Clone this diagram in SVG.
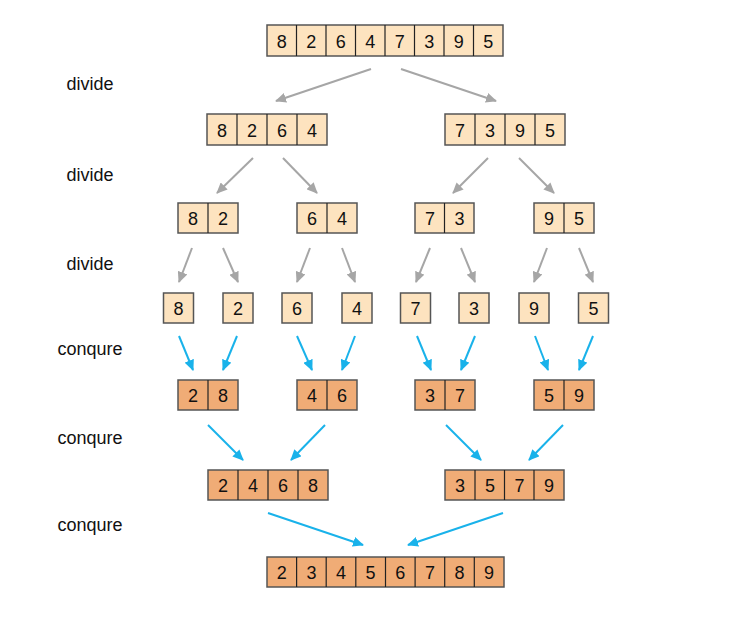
<svg xmlns="http://www.w3.org/2000/svg" width="755" height="628" viewBox="0 0 755 628">
<style>
.lbl{font-family:"Liberation Sans",Arial,sans-serif;font-size:18px;fill:#111;text-anchor:middle}
.num{font-family:"Liberation Sans",Arial,sans-serif;font-size:18px;fill:#111;text-anchor:middle}
.lt rect.b{fill:#fde3bf;stroke:#555;stroke-width:1.5}
.dk rect.b{fill:#f0ac76;stroke:#555;stroke-width:1.5}
.dv{stroke:#222;stroke-width:1.2}
.ga{stroke:#a6a6a6;stroke-width:2;fill:none;marker-end:url(#ag)}
.ca{stroke:#19b2ea;stroke-width:2;fill:none;marker-end:url(#ac)}
</style>
<defs>
<marker id="ag" markerUnits="userSpaceOnUse" markerWidth="12" markerHeight="10" refX="10" refY="5" orient="auto"><path d="M0,0 L11,5 L0,10 Z" fill="#a6a6a6"/></marker>
<marker id="ac" markerUnits="userSpaceOnUse" markerWidth="12" markerHeight="10" refX="10" refY="5" orient="auto"><path d="M0,0 L11,5 L0,10 Z" fill="#19b2ea"/></marker>
</defs>
<rect width="755" height="628" fill="#fff"/>
<g id="labels">
<text class="lbl" x="90" y="90">divide</text>
<text class="lbl" x="90" y="181">divide</text>
<text class="lbl" x="90" y="270">divide</text>
<text class="lbl" x="90" y="355">conqure</text>
<text class="lbl" x="90" y="444">conqure</text>
<text class="lbl" x="90" y="531">conqure</text>
</g>
<g id="n1" class="lt">
<rect class="b" x="267" y="25" width="236" height="31"/>
<line class="dv" x1="296.5" y1="25" x2="296.5" y2="56"/><line class="dv" x1="326" y1="25" x2="326" y2="56"/><line class="dv" x1="355.5" y1="25" x2="355.5" y2="56"/><line class="dv" x1="385" y1="25" x2="385" y2="56"/><line class="dv" x1="414.5" y1="25" x2="414.5" y2="56"/><line class="dv" x1="444" y1="25" x2="444" y2="56"/><line class="dv" x1="473.5" y1="25" x2="473.5" y2="56"/>
<text class="num" x="281.8" y="48">8</text><text class="num" x="311.3" y="48">2</text><text class="num" x="340.8" y="48">6</text><text class="num" x="370.3" y="48">4</text><text class="num" x="399.8" y="48">7</text><text class="num" x="429.3" y="48">3</text><text class="num" x="458.8" y="48">9</text><text class="num" x="488.3" y="48">5</text>
</g>
<g id="n2a" class="lt">
<rect class="b" x="207" y="114" width="120" height="31"/>
<line class="dv" x1="237" y1="114" x2="237" y2="145"/><line class="dv" x1="267" y1="114" x2="267" y2="145"/><line class="dv" x1="297" y1="114" x2="297" y2="145"/>
<text class="num" x="222" y="137">8</text><text class="num" x="252" y="137">2</text><text class="num" x="282" y="137">6</text><text class="num" x="312" y="137">4</text>
</g>
<g id="n2b" class="lt">
<rect class="b" x="445" y="114" width="120" height="31"/>
<line class="dv" x1="475" y1="114" x2="475" y2="145"/><line class="dv" x1="505" y1="114" x2="505" y2="145"/><line class="dv" x1="535" y1="114" x2="535" y2="145"/>
<text class="num" x="460" y="137">7</text><text class="num" x="490" y="137">3</text><text class="num" x="520" y="137">9</text><text class="num" x="550" y="137">5</text>
</g>
<g id="n3a" class="lt"><rect class="b" x="178" y="203" width="60" height="30"/><line class="dv" x1="208" y1="203" x2="208" y2="233"/><text class="num" x="193" y="225">8</text><text class="num" x="223" y="225">2</text></g>
<g id="n3b" class="lt"><rect class="b" x="297" y="203" width="60" height="30"/><line class="dv" x1="327" y1="203" x2="327" y2="233"/><text class="num" x="312" y="225">6</text><text class="num" x="342" y="225">4</text></g>
<g id="n3c" class="lt"><rect class="b" x="415" y="203" width="59" height="30"/><line class="dv" x1="444.5" y1="203" x2="444.5" y2="233"/><text class="num" x="430" y="225">7</text><text class="num" x="459.5" y="225">3</text></g>
<g id="n3d" class="lt"><rect class="b" x="534" y="203" width="60" height="30"/><line class="dv" x1="564" y1="203" x2="564" y2="233"/><text class="num" x="549" y="225">9</text><text class="num" x="579" y="225">5</text></g>
<g id="n4a" class="lt"><rect class="b" x="163.5" y="293" width="30" height="30"/><text class="num" x="178.5" y="315">8</text></g>
<g id="n4b" class="lt"><rect class="b" x="223" y="293" width="30" height="30"/><text class="num" x="238" y="315">2</text></g>
<g id="n4c" class="lt"><rect class="b" x="282" y="293" width="30" height="30"/><text class="num" x="297" y="315">6</text></g>
<g id="n4d" class="lt"><rect class="b" x="342" y="293" width="30" height="30"/><text class="num" x="357" y="315">4</text></g>
<g id="n4e" class="lt"><rect class="b" x="400.5" y="293" width="30" height="30"/><text class="num" x="415.5" y="315">7</text></g>
<g id="n4f" class="lt"><rect class="b" x="459" y="293" width="30" height="30"/><text class="num" x="474" y="315">3</text></g>
<g id="n4g" class="lt"><rect class="b" x="519" y="293" width="30" height="30"/><text class="num" x="534" y="315">9</text></g>
<g id="n4h" class="lt"><rect class="b" x="578.5" y="293" width="30" height="30"/><text class="num" x="593.5" y="315">5</text></g>
<g id="n5a" class="dk"><rect class="b" x="178" y="380" width="60" height="30"/><line class="dv" x1="208" y1="380" x2="208" y2="410"/><text class="num" x="193" y="402">2</text><text class="num" x="223" y="402">8</text></g>
<g id="n5b" class="dk"><rect class="b" x="297" y="380" width="60" height="30"/><line class="dv" x1="327" y1="380" x2="327" y2="410"/><text class="num" x="312" y="402">4</text><text class="num" x="342" y="402">6</text></g>
<g id="n5c" class="dk"><rect class="b" x="415" y="380" width="60" height="30"/><line class="dv" x1="445" y1="380" x2="445" y2="410"/><text class="num" x="430" y="402">3</text><text class="num" x="460" y="402">7</text></g>
<g id="n5d" class="dk"><rect class="b" x="534" y="380" width="60" height="30"/><line class="dv" x1="564" y1="380" x2="564" y2="410"/><text class="num" x="549" y="402">5</text><text class="num" x="579" y="402">9</text></g>
<g id="n6a" class="dk">
<rect class="b" x="208" y="470" width="120" height="30"/>
<line class="dv" x1="238" y1="470" x2="238" y2="500"/><line class="dv" x1="268" y1="470" x2="268" y2="500"/><line class="dv" x1="298" y1="470" x2="298" y2="500"/>
<text class="num" x="223" y="492">2</text><text class="num" x="253" y="492">4</text><text class="num" x="283" y="492">6</text><text class="num" x="313" y="492">8</text>
</g>
<g id="n6b" class="dk">
<rect class="b" x="445" y="470" width="119" height="30"/>
<line class="dv" x1="475" y1="470" x2="475" y2="500"/><line class="dv" x1="504.5" y1="470" x2="504.5" y2="500"/><line class="dv" x1="534" y1="470" x2="534" y2="500"/>
<text class="num" x="460" y="492">3</text><text class="num" x="490" y="492">5</text><text class="num" x="519.5" y="492">7</text><text class="num" x="549" y="492">9</text>
</g>
<g id="n7" class="dk">
<rect class="b" x="267" y="557" width="237" height="30"/>
<line class="dv" x1="296.6" y1="557" x2="296.6" y2="587"/><line class="dv" x1="326.2" y1="557" x2="326.2" y2="587"/><line class="dv" x1="355.8" y1="557" x2="355.8" y2="587"/><line class="dv" x1="385.5" y1="557" x2="385.5" y2="587"/><line class="dv" x1="415.1" y1="557" x2="415.1" y2="587"/><line class="dv" x1="444.7" y1="557" x2="444.7" y2="587"/><line class="dv" x1="474.3" y1="557" x2="474.3" y2="587"/>
<text class="num" x="281.8" y="579">2</text><text class="num" x="311.4" y="579">3</text><text class="num" x="341" y="579">4</text><text class="num" x="370.6" y="579">5</text><text class="num" x="400.3" y="579">6</text><text class="num" x="429.9" y="579">7</text><text class="num" x="459.5" y="579">8</text><text class="num" x="489.1" y="579">9</text>
</g>
<g id="connectors">
<line class="ga" x1="371" y1="69" x2="276" y2="101"/>
<line class="ga" x1="401" y1="69" x2="496" y2="101"/>
<line class="ga" x1="253" y1="158" x2="217" y2="193"/>
<line class="ga" x1="283" y1="158" x2="317" y2="193"/>
<line class="ga" x1="488" y1="158" x2="453" y2="193"/>
<line class="ga" x1="519" y1="158" x2="554" y2="193"/>
<line class="ga" x1="192" y1="248" x2="179" y2="282"/>
<line class="ga" x1="223" y1="248" x2="238" y2="282"/>
<line class="ga" x1="310" y1="248" x2="297" y2="282"/>
<line class="ga" x1="342" y1="248" x2="355" y2="282"/>
<line class="ga" x1="430" y1="248" x2="416" y2="282"/>
<line class="ga" x1="461" y1="248" x2="475" y2="282"/>
<line class="ga" x1="547" y1="248" x2="534" y2="282"/>
<line class="ga" x1="579" y1="248" x2="593" y2="282"/>
<line class="ca" x1="179" y1="336" x2="193" y2="370"/>
<line class="ca" x1="237" y1="336" x2="223" y2="370"/>
<line class="ca" x1="297" y1="336" x2="312" y2="370"/>
<line class="ca" x1="355" y1="336" x2="342" y2="370"/>
<line class="ca" x1="417" y1="336" x2="431" y2="370"/>
<line class="ca" x1="475" y1="336" x2="461" y2="370"/>
<line class="ca" x1="535" y1="336" x2="548" y2="370"/>
<line class="ca" x1="593" y1="336" x2="579" y2="370"/>
<line class="ca" x1="208" y1="425" x2="243" y2="460"/>
<line class="ca" x1="325" y1="425" x2="291" y2="460"/>
<line class="ca" x1="446" y1="425" x2="481" y2="460"/>
<line class="ca" x1="563" y1="425" x2="529" y2="460"/>
<line class="ca" x1="268" y1="513" x2="363" y2="545"/>
<line class="ca" x1="503" y1="513" x2="408" y2="545"/>
</g>
</svg>
